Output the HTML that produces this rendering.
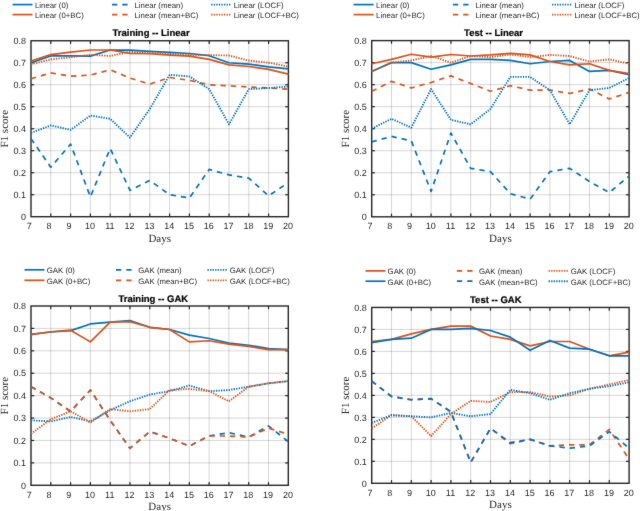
<!DOCTYPE html>
<html><head><meta charset="utf-8"><style>
html,body{margin:0;padding:0;background:#fff;width:640px;height:511px;overflow:hidden;position:relative;font-family:"Liberation Sans",sans-serif;}
svg text{text-rendering:geometricPrecision;} svg{will-change:transform;}

</style></head><body>
<svg width="640" height="511" viewBox="0 0 640 511" style="position:absolute;left:0;top:0">
<defs><filter id="bl" filterUnits="userSpaceOnUse" x="-10" y="-10" width="660" height="531" color-interpolation-filters="sRGB"><feConvolveMatrix order="3" kernelMatrix="1 2 1 2 36 2 1 2 1" edgeMode="duplicate" preserveAlpha="true"/></filter></defs><g filter="url(#bl)"><rect x="-10" y="-10" width="660" height="531" fill="#fff"/>
<g stroke="#262626" stroke-opacity="0.19" stroke-width="1" fill="none"><line x1="50.8" y1="40.75" x2="50.8" y2="216.7"/><line x1="70.6" y1="40.75" x2="70.6" y2="216.7"/><line x1="90.4" y1="40.75" x2="90.4" y2="216.7"/><line x1="110.2" y1="40.75" x2="110.2" y2="216.7"/><line x1="130" y1="40.75" x2="130" y2="216.7"/><line x1="149.8" y1="40.75" x2="149.8" y2="216.7"/><line x1="169.6" y1="40.75" x2="169.6" y2="216.7"/><line x1="189.4" y1="40.75" x2="189.4" y2="216.7"/><line x1="209.2" y1="40.75" x2="209.2" y2="216.7"/><line x1="229" y1="40.75" x2="229" y2="216.7"/><line x1="248.8" y1="40.75" x2="248.8" y2="216.7"/><line x1="268.6" y1="40.75" x2="268.6" y2="216.7"/><line x1="31" y1="194.71" x2="288.4" y2="194.71"/><line x1="31" y1="172.71" x2="288.4" y2="172.71"/><line x1="31" y1="150.72" x2="288.4" y2="150.72"/><line x1="31" y1="128.72" x2="288.4" y2="128.72"/><line x1="31" y1="106.73" x2="288.4" y2="106.73"/><line x1="31" y1="84.74" x2="288.4" y2="84.74"/><line x1="31" y1="62.74" x2="288.4" y2="62.74"/></g>
<g stroke="#262626" stroke-width="1.2" fill="none"><line x1="50.8" y1="216.7" x2="50.8" y2="213.5"/><line x1="50.8" y1="40.75" x2="50.8" y2="43.95"/><line x1="70.6" y1="216.7" x2="70.6" y2="213.5"/><line x1="70.6" y1="40.75" x2="70.6" y2="43.95"/><line x1="90.4" y1="216.7" x2="90.4" y2="213.5"/><line x1="90.4" y1="40.75" x2="90.4" y2="43.95"/><line x1="110.2" y1="216.7" x2="110.2" y2="213.5"/><line x1="110.2" y1="40.75" x2="110.2" y2="43.95"/><line x1="130" y1="216.7" x2="130" y2="213.5"/><line x1="130" y1="40.75" x2="130" y2="43.95"/><line x1="149.8" y1="216.7" x2="149.8" y2="213.5"/><line x1="149.8" y1="40.75" x2="149.8" y2="43.95"/><line x1="169.6" y1="216.7" x2="169.6" y2="213.5"/><line x1="169.6" y1="40.75" x2="169.6" y2="43.95"/><line x1="189.4" y1="216.7" x2="189.4" y2="213.5"/><line x1="189.4" y1="40.75" x2="189.4" y2="43.95"/><line x1="209.2" y1="216.7" x2="209.2" y2="213.5"/><line x1="209.2" y1="40.75" x2="209.2" y2="43.95"/><line x1="229" y1="216.7" x2="229" y2="213.5"/><line x1="229" y1="40.75" x2="229" y2="43.95"/><line x1="248.8" y1="216.7" x2="248.8" y2="213.5"/><line x1="248.8" y1="40.75" x2="248.8" y2="43.95"/><line x1="268.6" y1="216.7" x2="268.6" y2="213.5"/><line x1="268.6" y1="40.75" x2="268.6" y2="43.95"/><line x1="31" y1="194.71" x2="34.2" y2="194.71"/><line x1="288.4" y1="194.71" x2="285.2" y2="194.71"/><line x1="31" y1="172.71" x2="34.2" y2="172.71"/><line x1="288.4" y1="172.71" x2="285.2" y2="172.71"/><line x1="31" y1="150.72" x2="34.2" y2="150.72"/><line x1="288.4" y1="150.72" x2="285.2" y2="150.72"/><line x1="31" y1="128.72" x2="34.2" y2="128.72"/><line x1="288.4" y1="128.72" x2="285.2" y2="128.72"/><line x1="31" y1="106.73" x2="34.2" y2="106.73"/><line x1="288.4" y1="106.73" x2="285.2" y2="106.73"/><line x1="31" y1="84.74" x2="34.2" y2="84.74"/><line x1="288.4" y1="84.74" x2="285.2" y2="84.74"/><line x1="31" y1="62.74" x2="34.2" y2="62.74"/><line x1="288.4" y1="62.74" x2="285.2" y2="62.74"/></g>
<rect x="31" y="40.75" width="257.4" height="175.95" fill="none" stroke="#262626" stroke-width="1.4"/>
<polyline points="31,62.74 50.8,55.93 70.6,55.93 90.4,56.15 110.2,49.99 130,50.21 149.8,51.31 169.6,52.41 189.4,53.51 209.2,55.71 229,62.74 248.8,64.06 268.6,66.92 288.4,68.9" fill="none" stroke="#0072BD" stroke-width="1.7" stroke-linejoin="round"/>
<polyline points="31,60.98 50.8,54.61 70.6,52.19 90.4,49.99 110.2,49.99 130,53.29 149.8,53.73 169.6,55.05 189.4,56.15 209.2,59.44 229,64.94 248.8,66.48 268.6,69.34 288.4,74.18" fill="none" stroke="#D95319" stroke-width="1.7" stroke-linejoin="round"/>
<polyline points="31,138.62 50.8,167.21 70.6,144.12 90.4,196.91 110.2,148.52 130,190.31 149.8,180.41 169.6,194.71 189.4,198.01 209.2,169.41 229,174.91 248.8,178.21 268.6,195.81 288.4,182.61" fill="none" stroke="#0072BD" stroke-width="1.7" stroke-linejoin="round" stroke-dasharray="5.3 5.0"/>
<polyline points="31,78.8 50.8,72.86 70.6,76.16 90.4,75.06 110.2,69.78 130,78.14 149.8,84.08 169.6,77.48 189.4,80.34 209.2,84.74 229,85.84 248.8,86.94 268.6,88.04 288.4,89.14" fill="none" stroke="#D95319" stroke-width="1.7" stroke-linejoin="round" stroke-dasharray="5.3 5.0"/>
<polyline points="31,132.9 50.8,125.43 70.6,129.82 90.4,115.53 110.2,118.83 130,137.52 149.8,108.93 169.6,74.84 189.4,76.38 209.2,89.14 229,124.33 248.8,89.14 268.6,88.04 288.4,86.5" fill="none" stroke="#0072BD" stroke-width="1.85" stroke-linejoin="round" stroke-dasharray="1.35 1.2"/>
<polyline points="31,64.28 50.8,59.44 70.6,57.25 90.4,54.83 110.2,55.93 130,51.75 149.8,52.85 169.6,53.95 189.4,55.05 209.2,55.05 229,55.49 248.8,60.54 268.6,62.74 288.4,66.48" fill="none" stroke="#D95319" stroke-width="1.85" stroke-linejoin="round" stroke-dasharray="1.35 1.2"/>
<g font-family="Liberation Sans" font-size="9" fill="#262626"><text x="29.3" y="229" text-anchor="middle">7</text><text x="49.1" y="229" text-anchor="middle">8</text><text x="68.9" y="229" text-anchor="middle">9</text><text x="90" y="229" text-anchor="middle">10</text><text x="109.8" y="229" text-anchor="middle">11</text><text x="129.6" y="229" text-anchor="middle">12</text><text x="149.4" y="229" text-anchor="middle">13</text><text x="169.2" y="229" text-anchor="middle">14</text><text x="189" y="229" text-anchor="middle">15</text><text x="208.8" y="229" text-anchor="middle">16</text><text x="228.6" y="229" text-anchor="middle">17</text><text x="248.4" y="229" text-anchor="middle">18</text><text x="268.2" y="229" text-anchor="middle">19</text><text x="288" y="229" text-anchor="middle">20</text><text x="26.1" y="219.9" text-anchor="end">0</text><text x="26.1" y="197.91" text-anchor="end">0.1</text><text x="26.1" y="175.91" text-anchor="end">0.2</text><text x="26.1" y="153.92" text-anchor="end">0.3</text><text x="26.1" y="131.92" text-anchor="end">0.4</text><text x="26.1" y="109.93" text-anchor="end">0.5</text><text x="26.1" y="87.94" text-anchor="end">0.6</text><text x="26.1" y="65.94" text-anchor="end">0.7</text><text x="26.1" y="43.95" text-anchor="end">0.8</text></g>
<text x="151.05" y="36.4" text-anchor="middle" font-family="Liberation Sans" font-size="9.5" font-weight="bold" fill="#000" stroke="#000" stroke-width="0.2">Training -- Linear</text>
<text x="159.7" y="241.8" text-anchor="middle" style="font-family:'Liberation Serif',serif" font-size="11" fill="#262626">Days</text>
<text x="0" y="0" transform="translate(7.8,128.72) rotate(-90)" text-anchor="middle" style="font-family:'Liberation Serif',serif" font-size="11" fill="#262626">F1 score</text>
<line x1="12.5" y1="4.6" x2="32.5" y2="4.6" stroke="#0072BD" stroke-width="1.7"/>
<text x="35" y="8.1" font-family="Liberation Sans" font-size="7.8" fill="#262626">Linear (0)</text>
<line x1="12.5" y1="14.6" x2="32.5" y2="14.6" stroke="#D95319" stroke-width="1.7"/>
<text x="35" y="18.1" font-family="Liberation Sans" font-size="7.8" fill="#262626">Linear (0+BC)</text>
<line x1="112" y1="4.6" x2="132" y2="4.6" stroke="#0072BD" stroke-width="1.7" stroke-dasharray="5.3 5.0"/>
<text x="134.5" y="8.1" font-family="Liberation Sans" font-size="7.8" fill="#262626">Linear (mean)</text>
<line x1="112" y1="14.6" x2="132" y2="14.6" stroke="#D95319" stroke-width="1.7" stroke-dasharray="5.3 5.0"/>
<text x="134.5" y="18.1" font-family="Liberation Sans" font-size="7.8" fill="#262626">Linear (mean+BC)</text>
<line x1="211.2" y1="4.6" x2="231.2" y2="4.6" stroke="#0072BD" stroke-width="1.85" stroke-dasharray="1.35 1.2"/>
<text x="233.7" y="8.1" font-family="Liberation Sans" font-size="7.8" fill="#262626">Linear (LOCF)</text>
<line x1="211.2" y1="14.6" x2="231.2" y2="14.6" stroke="#D95319" stroke-width="1.85" stroke-dasharray="1.35 1.2"/>
<text x="233.7" y="18.1" font-family="Liberation Sans" font-size="7.8" fill="#262626">Linear (LOCF+BC)</text>
<g stroke="#262626" stroke-opacity="0.19" stroke-width="1" fill="none"><line x1="391.5" y1="40.6" x2="391.5" y2="216.8"/><line x1="411.3" y1="40.6" x2="411.3" y2="216.8"/><line x1="431.1" y1="40.6" x2="431.1" y2="216.8"/><line x1="450.9" y1="40.6" x2="450.9" y2="216.8"/><line x1="470.7" y1="40.6" x2="470.7" y2="216.8"/><line x1="490.5" y1="40.6" x2="490.5" y2="216.8"/><line x1="510.3" y1="40.6" x2="510.3" y2="216.8"/><line x1="530.1" y1="40.6" x2="530.1" y2="216.8"/><line x1="549.9" y1="40.6" x2="549.9" y2="216.8"/><line x1="569.7" y1="40.6" x2="569.7" y2="216.8"/><line x1="589.5" y1="40.6" x2="589.5" y2="216.8"/><line x1="609.3" y1="40.6" x2="609.3" y2="216.8"/><line x1="371.7" y1="194.78" x2="629.1" y2="194.78"/><line x1="371.7" y1="172.75" x2="629.1" y2="172.75"/><line x1="371.7" y1="150.73" x2="629.1" y2="150.73"/><line x1="371.7" y1="128.7" x2="629.1" y2="128.7"/><line x1="371.7" y1="106.68" x2="629.1" y2="106.68"/><line x1="371.7" y1="84.65" x2="629.1" y2="84.65"/><line x1="371.7" y1="62.63" x2="629.1" y2="62.63"/></g>
<g stroke="#262626" stroke-width="1.2" fill="none"><line x1="391.5" y1="216.8" x2="391.5" y2="213.6"/><line x1="391.5" y1="40.6" x2="391.5" y2="43.8"/><line x1="411.3" y1="216.8" x2="411.3" y2="213.6"/><line x1="411.3" y1="40.6" x2="411.3" y2="43.8"/><line x1="431.1" y1="216.8" x2="431.1" y2="213.6"/><line x1="431.1" y1="40.6" x2="431.1" y2="43.8"/><line x1="450.9" y1="216.8" x2="450.9" y2="213.6"/><line x1="450.9" y1="40.6" x2="450.9" y2="43.8"/><line x1="470.7" y1="216.8" x2="470.7" y2="213.6"/><line x1="470.7" y1="40.6" x2="470.7" y2="43.8"/><line x1="490.5" y1="216.8" x2="490.5" y2="213.6"/><line x1="490.5" y1="40.6" x2="490.5" y2="43.8"/><line x1="510.3" y1="216.8" x2="510.3" y2="213.6"/><line x1="510.3" y1="40.6" x2="510.3" y2="43.8"/><line x1="530.1" y1="216.8" x2="530.1" y2="213.6"/><line x1="530.1" y1="40.6" x2="530.1" y2="43.8"/><line x1="549.9" y1="216.8" x2="549.9" y2="213.6"/><line x1="549.9" y1="40.6" x2="549.9" y2="43.8"/><line x1="569.7" y1="216.8" x2="569.7" y2="213.6"/><line x1="569.7" y1="40.6" x2="569.7" y2="43.8"/><line x1="589.5" y1="216.8" x2="589.5" y2="213.6"/><line x1="589.5" y1="40.6" x2="589.5" y2="43.8"/><line x1="609.3" y1="216.8" x2="609.3" y2="213.6"/><line x1="609.3" y1="40.6" x2="609.3" y2="43.8"/><line x1="371.7" y1="194.78" x2="374.9" y2="194.78"/><line x1="629.1" y1="194.78" x2="625.9" y2="194.78"/><line x1="371.7" y1="172.75" x2="374.9" y2="172.75"/><line x1="629.1" y1="172.75" x2="625.9" y2="172.75"/><line x1="371.7" y1="150.73" x2="374.9" y2="150.73"/><line x1="629.1" y1="150.73" x2="625.9" y2="150.73"/><line x1="371.7" y1="128.7" x2="374.9" y2="128.7"/><line x1="629.1" y1="128.7" x2="625.9" y2="128.7"/><line x1="371.7" y1="106.68" x2="374.9" y2="106.68"/><line x1="629.1" y1="106.68" x2="625.9" y2="106.68"/><line x1="371.7" y1="84.65" x2="374.9" y2="84.65"/><line x1="629.1" y1="84.65" x2="625.9" y2="84.65"/><line x1="371.7" y1="62.63" x2="374.9" y2="62.63"/><line x1="629.1" y1="62.63" x2="625.9" y2="62.63"/></g>
<rect x="371.7" y="40.6" width="257.4" height="176.2" fill="none" stroke="#262626" stroke-width="1.4"/>
<polyline points="371.7,71.44 391.5,62.63 411.3,62.63 431.1,69.23 450.9,64.83 470.7,59.32 490.5,59.32 510.3,60.42 530.1,63.73 549.9,61.52 569.7,60.42 589.5,71.44 609.3,70.33 629.1,74.74" fill="none" stroke="#0072BD" stroke-width="1.7" stroke-linejoin="round"/>
<polyline points="371.7,63.73 391.5,59.32 411.3,54.26 431.1,57.12 450.9,54.48 470.7,56.02 490.5,54.92 510.3,53.37 530.1,54.92 549.9,61.52 569.7,64.83 589.5,63.73 609.3,70.33 629.1,73.64" fill="none" stroke="#D95319" stroke-width="1.7" stroke-linejoin="round"/>
<polyline points="371.7,141.92 391.5,136.41 411.3,140.81 431.1,191.47 450.9,133.11 470.7,168.35 490.5,171.65 510.3,193.67 530.1,199.18 549.9,171.65 569.7,168.35 589.5,181.56 609.3,192.57 629.1,176.05" fill="none" stroke="#0072BD" stroke-width="1.7" stroke-linejoin="round" stroke-dasharray="5.3 5.0"/>
<polyline points="371.7,91.26 391.5,81.35 411.3,87.95 431.1,82.45 450.9,75.84 470.7,83.55 490.5,91.26 510.3,85.75 530.1,90.16 549.9,90.16 569.7,93.46 589.5,89.06 609.3,98.97 629.1,92.36" fill="none" stroke="#D95319" stroke-width="1.7" stroke-linejoin="round" stroke-dasharray="5.3 5.0"/>
<polyline points="371.7,128.7 391.5,118.79 411.3,127.6 431.1,89.06 450.9,119.89 470.7,124.3 490.5,108.88 510.3,76.94 530.1,76.94 549.9,90.16 569.7,124.3 589.5,90.16 609.3,87.95 629.1,78.04" fill="none" stroke="#0072BD" stroke-width="1.85" stroke-linejoin="round" stroke-dasharray="1.35 1.2"/>
<polyline points="371.7,71.44 391.5,62.63 411.3,60.42 431.1,56.02 450.9,62.63 470.7,56.02 490.5,57.12 510.3,54.48 530.1,57.12 549.9,54.92 569.7,56.02 589.5,61.52 609.3,59.32 629.1,63.73" fill="none" stroke="#D95319" stroke-width="1.85" stroke-linejoin="round" stroke-dasharray="1.35 1.2"/>
<g font-family="Liberation Sans" font-size="9" fill="#262626"><text x="370" y="229.1" text-anchor="middle">7</text><text x="389.8" y="229.1" text-anchor="middle">8</text><text x="409.6" y="229.1" text-anchor="middle">9</text><text x="430.7" y="229.1" text-anchor="middle">10</text><text x="450.5" y="229.1" text-anchor="middle">11</text><text x="470.3" y="229.1" text-anchor="middle">12</text><text x="490.1" y="229.1" text-anchor="middle">13</text><text x="509.9" y="229.1" text-anchor="middle">14</text><text x="529.7" y="229.1" text-anchor="middle">15</text><text x="549.5" y="229.1" text-anchor="middle">16</text><text x="569.3" y="229.1" text-anchor="middle">17</text><text x="589.1" y="229.1" text-anchor="middle">18</text><text x="608.9" y="229.1" text-anchor="middle">19</text><text x="628.7" y="229.1" text-anchor="middle">20</text><text x="366.8" y="220" text-anchor="end">0</text><text x="366.8" y="197.97" text-anchor="end">0.1</text><text x="366.8" y="175.95" text-anchor="end">0.2</text><text x="366.8" y="153.93" text-anchor="end">0.3</text><text x="366.8" y="131.9" text-anchor="end">0.4</text><text x="366.8" y="109.88" text-anchor="end">0.5</text><text x="366.8" y="87.85" text-anchor="end">0.6</text><text x="366.8" y="65.83" text-anchor="end">0.7</text><text x="366.8" y="43.8" text-anchor="end">0.8</text></g>
<text x="493.6" y="36.4" text-anchor="middle" font-family="Liberation Sans" font-size="9.5" font-weight="bold" fill="#000" stroke="#000" stroke-width="0.2">Test -- Linear</text>
<text x="500.4" y="241.9" text-anchor="middle" style="font-family:'Liberation Serif',serif" font-size="11" fill="#262626">Days</text>
<text x="0" y="0" transform="translate(348.5,128.7) rotate(-90)" text-anchor="middle" style="font-family:'Liberation Serif',serif" font-size="11" fill="#262626">F1 score</text>
<line x1="353.6" y1="4.6" x2="373.6" y2="4.6" stroke="#0072BD" stroke-width="1.7"/>
<text x="376.1" y="8.1" font-family="Liberation Sans" font-size="7.8" fill="#262626">Linear (0)</text>
<line x1="353.6" y1="14.6" x2="373.6" y2="14.6" stroke="#D95319" stroke-width="1.7"/>
<text x="376.1" y="18.1" font-family="Liberation Sans" font-size="7.8" fill="#262626">Linear (0+BC)</text>
<line x1="452.9" y1="4.6" x2="472.9" y2="4.6" stroke="#0072BD" stroke-width="1.7" stroke-dasharray="5.3 5.0"/>
<text x="475.4" y="8.1" font-family="Liberation Sans" font-size="7.8" fill="#262626">Linear (mean)</text>
<line x1="452.9" y1="14.6" x2="472.9" y2="14.6" stroke="#D95319" stroke-width="1.7" stroke-dasharray="5.3 5.0"/>
<text x="475.4" y="18.1" font-family="Liberation Sans" font-size="7.8" fill="#262626">Linear (mean+BC)</text>
<line x1="552" y1="4.6" x2="572" y2="4.6" stroke="#0072BD" stroke-width="1.85" stroke-dasharray="1.35 1.2"/>
<text x="574.5" y="8.1" font-family="Liberation Sans" font-size="7.8" fill="#262626">Linear (LOCF)</text>
<line x1="552" y1="14.6" x2="572" y2="14.6" stroke="#D95319" stroke-width="1.85" stroke-dasharray="1.35 1.2"/>
<text x="574.5" y="18.1" font-family="Liberation Sans" font-size="7.8" fill="#262626">Linear (LOCF+BC)</text>
<g stroke="#262626" stroke-opacity="0.19" stroke-width="1" fill="none"><line x1="50.79" y1="306" x2="50.79" y2="485.3"/><line x1="70.58" y1="306" x2="70.58" y2="485.3"/><line x1="90.38" y1="306" x2="90.38" y2="485.3"/><line x1="110.17" y1="306" x2="110.17" y2="485.3"/><line x1="129.96" y1="306" x2="129.96" y2="485.3"/><line x1="149.75" y1="306" x2="149.75" y2="485.3"/><line x1="169.55" y1="306" x2="169.55" y2="485.3"/><line x1="189.34" y1="306" x2="189.34" y2="485.3"/><line x1="209.13" y1="306" x2="209.13" y2="485.3"/><line x1="228.92" y1="306" x2="228.92" y2="485.3"/><line x1="248.72" y1="306" x2="248.72" y2="485.3"/><line x1="268.51" y1="306" x2="268.51" y2="485.3"/><line x1="31" y1="462.89" x2="288.3" y2="462.89"/><line x1="31" y1="440.48" x2="288.3" y2="440.48"/><line x1="31" y1="418.06" x2="288.3" y2="418.06"/><line x1="31" y1="395.65" x2="288.3" y2="395.65"/><line x1="31" y1="373.24" x2="288.3" y2="373.24"/><line x1="31" y1="350.83" x2="288.3" y2="350.83"/><line x1="31" y1="328.41" x2="288.3" y2="328.41"/></g>
<g stroke="#262626" stroke-width="1.2" fill="none"><line x1="50.79" y1="485.3" x2="50.79" y2="482.1"/><line x1="50.79" y1="306" x2="50.79" y2="309.2"/><line x1="70.58" y1="485.3" x2="70.58" y2="482.1"/><line x1="70.58" y1="306" x2="70.58" y2="309.2"/><line x1="90.38" y1="485.3" x2="90.38" y2="482.1"/><line x1="90.38" y1="306" x2="90.38" y2="309.2"/><line x1="110.17" y1="485.3" x2="110.17" y2="482.1"/><line x1="110.17" y1="306" x2="110.17" y2="309.2"/><line x1="129.96" y1="485.3" x2="129.96" y2="482.1"/><line x1="129.96" y1="306" x2="129.96" y2="309.2"/><line x1="149.75" y1="485.3" x2="149.75" y2="482.1"/><line x1="149.75" y1="306" x2="149.75" y2="309.2"/><line x1="169.55" y1="485.3" x2="169.55" y2="482.1"/><line x1="169.55" y1="306" x2="169.55" y2="309.2"/><line x1="189.34" y1="485.3" x2="189.34" y2="482.1"/><line x1="189.34" y1="306" x2="189.34" y2="309.2"/><line x1="209.13" y1="485.3" x2="209.13" y2="482.1"/><line x1="209.13" y1="306" x2="209.13" y2="309.2"/><line x1="228.92" y1="485.3" x2="228.92" y2="482.1"/><line x1="228.92" y1="306" x2="228.92" y2="309.2"/><line x1="248.72" y1="485.3" x2="248.72" y2="482.1"/><line x1="248.72" y1="306" x2="248.72" y2="309.2"/><line x1="268.51" y1="485.3" x2="268.51" y2="482.1"/><line x1="268.51" y1="306" x2="268.51" y2="309.2"/><line x1="31" y1="462.89" x2="34.2" y2="462.89"/><line x1="288.3" y1="462.89" x2="285.1" y2="462.89"/><line x1="31" y1="440.48" x2="34.2" y2="440.48"/><line x1="288.3" y1="440.48" x2="285.1" y2="440.48"/><line x1="31" y1="418.06" x2="34.2" y2="418.06"/><line x1="288.3" y1="418.06" x2="285.1" y2="418.06"/><line x1="31" y1="395.65" x2="34.2" y2="395.65"/><line x1="288.3" y1="395.65" x2="285.1" y2="395.65"/><line x1="31" y1="373.24" x2="34.2" y2="373.24"/><line x1="288.3" y1="373.24" x2="285.1" y2="373.24"/><line x1="31" y1="350.83" x2="34.2" y2="350.83"/><line x1="288.3" y1="350.83" x2="285.1" y2="350.83"/><line x1="31" y1="328.41" x2="34.2" y2="328.41"/><line x1="288.3" y1="328.41" x2="285.1" y2="328.41"/></g>
<rect x="31" y="306" width="257.3" height="179.3" fill="none" stroke="#262626" stroke-width="1.4"/>
<polyline points="31,334.46 50.79,332 70.58,330.65 90.38,323.93 110.17,322.14 129.96,320.57 149.75,327.29 169.55,329.53 189.34,335.14 209.13,338.5 228.92,342.98 248.72,345.22 268.51,348.58 288.3,349.7" fill="none" stroke="#0072BD" stroke-width="1.7" stroke-linejoin="round"/>
<polyline points="31,334.69 50.79,331.77 70.58,330.21 90.38,341.86 110.17,322.14 129.96,321.69 149.75,327.29 169.55,329.53 189.34,341.86 209.13,340.74 228.92,344.1 248.72,346.34 268.51,349.7 288.3,349.7" fill="none" stroke="#D95319" stroke-width="1.7" stroke-linejoin="round"/>
<polyline points="31,386.69 50.79,397.89 70.58,411.34 90.38,390.05 110.17,420.3 129.96,448.32 149.75,431.51 169.55,438.23 189.34,446.08 209.13,435.99 228.92,432.63 248.72,437.11 268.51,425.91 288.3,441.6" fill="none" stroke="#0072BD" stroke-width="1.7" stroke-linejoin="round" stroke-dasharray="5.3 5.0"/>
<polyline points="31,386.69 50.79,397.89 70.58,411.34 90.38,390.05 110.17,420.3 129.96,448.32 149.75,431.51 169.55,438.23 189.34,446.08 209.13,435.99 228.92,435.99 248.72,437.11 268.51,428.15 288.3,434.2" fill="none" stroke="#D95319" stroke-width="1.7" stroke-linejoin="round" stroke-dasharray="5.3 5.0"/>
<polyline points="31,420.3 50.79,421.42 70.58,416.94 90.38,421.42 110.17,410.22 129.96,401.25 149.75,394.53 169.55,391.17 189.34,385.56 209.13,391.17 228.92,390.05 248.72,386.69 268.51,383.32 288.3,381.08" fill="none" stroke="#0072BD" stroke-width="1.85" stroke-linejoin="round" stroke-dasharray="1.35 1.2"/>
<polyline points="31,433.75 50.79,419.18 70.58,411.34 90.38,422.55 110.17,409.1 129.96,411.34 149.75,409.1 169.55,390.05 189.34,388.93 209.13,391.17 228.92,401.25 248.72,386.69 268.51,383.32 288.3,381.08" fill="none" stroke="#D95319" stroke-width="1.85" stroke-linejoin="round" stroke-dasharray="1.35 1.2"/>
<g font-family="Liberation Sans" font-size="9" fill="#262626"><text x="29.3" y="497.6" text-anchor="middle">7</text><text x="49.09" y="497.6" text-anchor="middle">8</text><text x="68.88" y="497.6" text-anchor="middle">9</text><text x="89.98" y="497.6" text-anchor="middle">10</text><text x="109.77" y="497.6" text-anchor="middle">11</text><text x="129.56" y="497.6" text-anchor="middle">12</text><text x="149.35" y="497.6" text-anchor="middle">13</text><text x="169.15" y="497.6" text-anchor="middle">14</text><text x="188.94" y="497.6" text-anchor="middle">15</text><text x="208.73" y="497.6" text-anchor="middle">16</text><text x="228.52" y="497.6" text-anchor="middle">17</text><text x="248.32" y="497.6" text-anchor="middle">18</text><text x="268.11" y="497.6" text-anchor="middle">19</text><text x="287.9" y="497.6" text-anchor="middle">20</text><text x="26.1" y="488.5" text-anchor="end">0</text><text x="26.1" y="466.09" text-anchor="end">0.1</text><text x="26.1" y="443.68" text-anchor="end">0.2</text><text x="26.1" y="421.26" text-anchor="end">0.3</text><text x="26.1" y="398.85" text-anchor="end">0.4</text><text x="26.1" y="376.44" text-anchor="end">0.5</text><text x="26.1" y="354.03" text-anchor="end">0.6</text><text x="26.1" y="331.61" text-anchor="end">0.7</text><text x="26.1" y="309.2" text-anchor="end">0.8</text></g>
<text x="153.3" y="302.2" text-anchor="middle" font-family="Liberation Sans" font-size="9.5" font-weight="bold" fill="#000" stroke="#000" stroke-width="0.2">Training -- GAK</text>
<text x="159.65" y="510.4" text-anchor="middle" style="font-family:'Liberation Serif',serif" font-size="11" fill="#262626">Days</text>
<text x="0" y="0" transform="translate(7.8,395.65) rotate(-90)" text-anchor="middle" style="font-family:'Liberation Serif',serif" font-size="11" fill="#262626">F1 score</text>
<line x1="24.5" y1="269.8" x2="44.5" y2="269.8" stroke="#0072BD" stroke-width="1.7"/>
<text x="46.8" y="273.3" font-family="Liberation Sans" font-size="7.8" fill="#262626">GAK (0)</text>
<line x1="24.5" y1="280.3" x2="44.5" y2="280.3" stroke="#D95319" stroke-width="1.7"/>
<text x="46.8" y="283.8" font-family="Liberation Sans" font-size="7.8" fill="#262626">GAK (0+BC)</text>
<line x1="116" y1="269.8" x2="136" y2="269.8" stroke="#0072BD" stroke-width="1.7" stroke-dasharray="5.3 5.0"/>
<text x="138.3" y="273.3" font-family="Liberation Sans" font-size="7.8" fill="#262626">GAK (mean)</text>
<line x1="116" y1="280.3" x2="136" y2="280.3" stroke="#D95319" stroke-width="1.7" stroke-dasharray="5.3 5.0"/>
<text x="138.3" y="283.8" font-family="Liberation Sans" font-size="7.8" fill="#262626">GAK (mean+BC)</text>
<line x1="207.5" y1="269.8" x2="227.5" y2="269.8" stroke="#0072BD" stroke-width="1.85" stroke-dasharray="1.35 1.2"/>
<text x="229.8" y="273.3" font-family="Liberation Sans" font-size="7.8" fill="#262626">GAK (LOCF)</text>
<line x1="207.5" y1="280.3" x2="227.5" y2="280.3" stroke="#D95319" stroke-width="1.85" stroke-dasharray="1.35 1.2"/>
<text x="229.8" y="283.8" font-family="Liberation Sans" font-size="7.8" fill="#262626">GAK (LOCF+BC)</text>
<g stroke="#262626" stroke-opacity="0.19" stroke-width="1" fill="none"><line x1="391.5" y1="307.45" x2="391.5" y2="483.3"/><line x1="411.3" y1="307.45" x2="411.3" y2="483.3"/><line x1="431.1" y1="307.45" x2="431.1" y2="483.3"/><line x1="450.9" y1="307.45" x2="450.9" y2="483.3"/><line x1="470.7" y1="307.45" x2="470.7" y2="483.3"/><line x1="490.5" y1="307.45" x2="490.5" y2="483.3"/><line x1="510.3" y1="307.45" x2="510.3" y2="483.3"/><line x1="530.1" y1="307.45" x2="530.1" y2="483.3"/><line x1="549.9" y1="307.45" x2="549.9" y2="483.3"/><line x1="569.7" y1="307.45" x2="569.7" y2="483.3"/><line x1="589.5" y1="307.45" x2="589.5" y2="483.3"/><line x1="609.3" y1="307.45" x2="609.3" y2="483.3"/><line x1="371.7" y1="461.32" x2="629.1" y2="461.32"/><line x1="371.7" y1="439.34" x2="629.1" y2="439.34"/><line x1="371.7" y1="417.36" x2="629.1" y2="417.36"/><line x1="371.7" y1="395.38" x2="629.1" y2="395.38"/><line x1="371.7" y1="373.39" x2="629.1" y2="373.39"/><line x1="371.7" y1="351.41" x2="629.1" y2="351.41"/><line x1="371.7" y1="329.43" x2="629.1" y2="329.43"/></g>
<g stroke="#262626" stroke-width="1.2" fill="none"><line x1="391.5" y1="483.3" x2="391.5" y2="480.1"/><line x1="391.5" y1="307.45" x2="391.5" y2="310.65"/><line x1="411.3" y1="483.3" x2="411.3" y2="480.1"/><line x1="411.3" y1="307.45" x2="411.3" y2="310.65"/><line x1="431.1" y1="483.3" x2="431.1" y2="480.1"/><line x1="431.1" y1="307.45" x2="431.1" y2="310.65"/><line x1="450.9" y1="483.3" x2="450.9" y2="480.1"/><line x1="450.9" y1="307.45" x2="450.9" y2="310.65"/><line x1="470.7" y1="483.3" x2="470.7" y2="480.1"/><line x1="470.7" y1="307.45" x2="470.7" y2="310.65"/><line x1="490.5" y1="483.3" x2="490.5" y2="480.1"/><line x1="490.5" y1="307.45" x2="490.5" y2="310.65"/><line x1="510.3" y1="483.3" x2="510.3" y2="480.1"/><line x1="510.3" y1="307.45" x2="510.3" y2="310.65"/><line x1="530.1" y1="483.3" x2="530.1" y2="480.1"/><line x1="530.1" y1="307.45" x2="530.1" y2="310.65"/><line x1="549.9" y1="483.3" x2="549.9" y2="480.1"/><line x1="549.9" y1="307.45" x2="549.9" y2="310.65"/><line x1="569.7" y1="483.3" x2="569.7" y2="480.1"/><line x1="569.7" y1="307.45" x2="569.7" y2="310.65"/><line x1="589.5" y1="483.3" x2="589.5" y2="480.1"/><line x1="589.5" y1="307.45" x2="589.5" y2="310.65"/><line x1="609.3" y1="483.3" x2="609.3" y2="480.1"/><line x1="609.3" y1="307.45" x2="609.3" y2="310.65"/><line x1="371.7" y1="461.32" x2="374.9" y2="461.32"/><line x1="629.1" y1="461.32" x2="625.9" y2="461.32"/><line x1="371.7" y1="439.34" x2="374.9" y2="439.34"/><line x1="629.1" y1="439.34" x2="625.9" y2="439.34"/><line x1="371.7" y1="417.36" x2="374.9" y2="417.36"/><line x1="629.1" y1="417.36" x2="625.9" y2="417.36"/><line x1="371.7" y1="395.38" x2="374.9" y2="395.38"/><line x1="629.1" y1="395.38" x2="625.9" y2="395.38"/><line x1="371.7" y1="373.39" x2="374.9" y2="373.39"/><line x1="629.1" y1="373.39" x2="625.9" y2="373.39"/><line x1="371.7" y1="351.41" x2="374.9" y2="351.41"/><line x1="629.1" y1="351.41" x2="625.9" y2="351.41"/><line x1="371.7" y1="329.43" x2="374.9" y2="329.43"/><line x1="629.1" y1="329.43" x2="625.9" y2="329.43"/></g>
<rect x="371.7" y="307.45" width="257.4" height="175.85" fill="none" stroke="#262626" stroke-width="1.4"/>
<polyline points="371.7,341.52 391.5,339.32 411.3,333.83 431.1,329.43 450.9,326.13 470.7,326.13 490.5,336.03 510.3,339.32 530.1,345.92 549.9,341.52 569.7,341.52 589.5,349.21 609.3,355.81 629.1,352.07" fill="none" stroke="#D95319" stroke-width="1.7" stroke-linejoin="round"/>
<polyline points="371.7,342.62 391.5,339.32 411.3,338.22 431.1,329.43 450.9,329.43 470.7,328.33 490.5,330.53 510.3,337.12 530.1,350.31 549.9,340.42 569.7,348.12 589.5,349.21 609.3,355.81 629.1,355.81" fill="none" stroke="#0072BD" stroke-width="1.7" stroke-linejoin="round"/>
<polyline points="371.7,381.09 391.5,396.47 411.3,399.77 431.1,398.67 450.9,411.86 470.7,462.42 490.5,428.35 510.3,443.73 530.1,439.34 549.9,445.93 569.7,444.83 589.5,444.83 609.3,429.45 629.1,459.12" fill="none" stroke="#D95319" stroke-width="1.7" stroke-linejoin="round" stroke-dasharray="5.3 5.0"/>
<polyline points="371.7,381.09 391.5,396.47 411.3,399.77 431.1,398.67 450.9,411.86 470.7,462.42 490.5,428.35 510.3,442.63 530.1,439.34 549.9,445.93 569.7,448.13 589.5,445.93 609.3,431.64 629.1,448.13" fill="none" stroke="#0072BD" stroke-width="1.7" stroke-linejoin="round" stroke-dasharray="5.3 5.0"/>
<polyline points="371.7,428.35 391.5,415.16 411.3,416.26 431.1,436.04 450.9,414.06 470.7,400.87 490.5,401.97 510.3,392.08 530.1,392.08 549.9,396.47 569.7,395.38 589.5,388.78 609.3,384.38 629.1,379.99" fill="none" stroke="#D95319" stroke-width="1.85" stroke-linejoin="round" stroke-dasharray="1.35 1.2"/>
<polyline points="371.7,422.85 391.5,415.16 411.3,416.26 431.1,417.36 450.9,412.96 470.7,416.26 490.5,414.06 510.3,389.88 530.1,393.18 549.9,399.77 569.7,393.18 589.5,388.78 609.3,386.14 629.1,382.19" fill="none" stroke="#0072BD" stroke-width="1.85" stroke-linejoin="round" stroke-dasharray="1.35 1.2"/>
<g font-family="Liberation Sans" font-size="9" fill="#262626"><text x="370" y="495.6" text-anchor="middle">7</text><text x="389.8" y="495.6" text-anchor="middle">8</text><text x="409.6" y="495.6" text-anchor="middle">9</text><text x="430.7" y="495.6" text-anchor="middle">10</text><text x="450.5" y="495.6" text-anchor="middle">11</text><text x="470.3" y="495.6" text-anchor="middle">12</text><text x="490.1" y="495.6" text-anchor="middle">13</text><text x="509.9" y="495.6" text-anchor="middle">14</text><text x="529.7" y="495.6" text-anchor="middle">15</text><text x="549.5" y="495.6" text-anchor="middle">16</text><text x="569.3" y="495.6" text-anchor="middle">17</text><text x="589.1" y="495.6" text-anchor="middle">18</text><text x="608.9" y="495.6" text-anchor="middle">19</text><text x="628.7" y="495.6" text-anchor="middle">20</text><text x="366.8" y="486.5" text-anchor="end">0</text><text x="366.8" y="464.52" text-anchor="end">0.1</text><text x="366.8" y="442.54" text-anchor="end">0.2</text><text x="366.8" y="420.56" text-anchor="end">0.3</text><text x="366.8" y="398.57" text-anchor="end">0.4</text><text x="366.8" y="376.59" text-anchor="end">0.5</text><text x="366.8" y="354.61" text-anchor="end">0.6</text><text x="366.8" y="332.63" text-anchor="end">0.7</text><text x="366.8" y="310.65" text-anchor="end">0.8</text></g>
<text x="495.8" y="302.6" text-anchor="middle" font-family="Liberation Sans" font-size="9.5" font-weight="bold" fill="#000" stroke="#000" stroke-width="0.2">Test -- GAK</text>
<text x="500.4" y="508.4" text-anchor="middle" style="font-family:'Liberation Serif',serif" font-size="11" fill="#262626">Days</text>
<text x="0" y="0" transform="translate(348.5,395.38) rotate(-90)" text-anchor="middle" style="font-family:'Liberation Serif',serif" font-size="11" fill="#262626">F1 score</text>
<line x1="365.5" y1="270.9" x2="385.5" y2="270.9" stroke="#D95319" stroke-width="1.7"/>
<text x="387.6" y="274.4" font-family="Liberation Sans" font-size="7.8" fill="#262626">GAK (0)</text>
<line x1="365.5" y1="281.2" x2="385.5" y2="281.2" stroke="#0072BD" stroke-width="1.7"/>
<text x="387.6" y="284.7" font-family="Liberation Sans" font-size="7.8" fill="#262626">GAK (0+BC)</text>
<line x1="456.9" y1="270.9" x2="476.9" y2="270.9" stroke="#D95319" stroke-width="1.7" stroke-dasharray="5.3 5.0"/>
<text x="479" y="274.4" font-family="Liberation Sans" font-size="7.8" fill="#262626">GAK (mean)</text>
<line x1="456.9" y1="281.2" x2="476.9" y2="281.2" stroke="#0072BD" stroke-width="1.7" stroke-dasharray="5.3 5.0"/>
<text x="479" y="284.7" font-family="Liberation Sans" font-size="7.8" fill="#262626">GAK (mean+BC)</text>
<line x1="548.6" y1="270.9" x2="568.6" y2="270.9" stroke="#D95319" stroke-width="1.85" stroke-dasharray="1.35 1.2"/>
<text x="570.7" y="274.4" font-family="Liberation Sans" font-size="7.8" fill="#262626">GAK (LOCF)</text>
<line x1="548.6" y1="281.2" x2="568.6" y2="281.2" stroke="#0072BD" stroke-width="1.85" stroke-dasharray="1.35 1.2"/>
<text x="570.7" y="284.7" font-family="Liberation Sans" font-size="7.8" fill="#262626">GAK (LOCF+BC)</text>
</g>
</svg>
</body></html>
